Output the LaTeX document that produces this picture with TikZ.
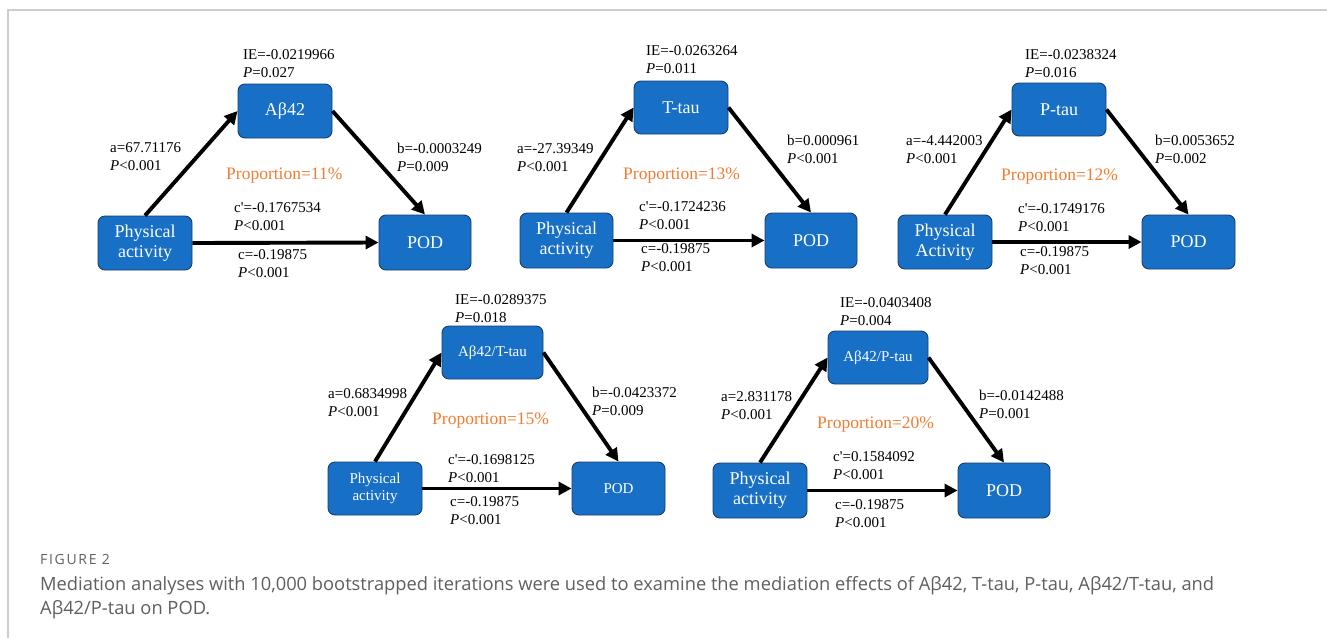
\documentclass[tikz,border=0pt]{standalone}
\usepackage{fontspec}
\setmainfont{Liberation Serif}
\newfontfamily\capfont{Open Sans}
\usetikzlibrary{arrows.meta}
\definecolor{boxblue}{RGB}{24,112,198}
\definecolor{boxedge}{RGB}{22,62,110}
\definecolor{proporange}{RGB}{240,125,50}
\definecolor{capgray}{RGB}{95,95,95}
\definecolor{framegray}{RGB}{205,205,205}
\begin{document}
\begin{tikzpicture}[x=1pt,y=-1pt,
  varbox/.style={draw=boxedge,line width=0.9pt,fill=boxblue,rounded corners=7pt,
    text=white,align=center,inner sep=0pt,font=\fontsize{18}{20}\selectfont},
  smallbox/.style={varbox,font=\fontsize{15}{17.5}\selectfont},
  lbl/.style={anchor=west,align=left,inner sep=0pt,font=\fontsize{15}{18}\selectfont},
  prop/.style={anchor=west,inner sep=0pt,text=proporange,font=\fontsize{17.5}{20}\selectfont},
  arr/.style={line width=3.9pt,-{Triangle[length=13pt,width=13pt]}},
  capt/.style={anchor=west,inner sep=0pt,text=capgray,align=left}
]
\useasboundingbox (0,0) rectangle (1327,638);
\fill[white] (0,0) rectangle (1327,638);
\coordinate (fa) at (8,638);
\coordinate (fb) at (8,10);
\coordinate (fc) at (1327,10);
\draw[framegray,line width=1.4pt] (fa) -- (fb) -- (fc);

% Panel 1
\node[varbox,minimum width=94pt,minimum height=54pt] (M1) at (285,111) {Aβ42};
\node[varbox,minimum width=94pt,minimum height=54pt] (X1) at (145,243) {Physical\\activity};
\node[varbox,minimum width=92pt,minimum height=55pt] (Y1) at (425,242.5) {POD};
\draw[arr] (X1.north) -- (M1.west);
\draw[arr] (M1.east) -- (Y1.north);
\draw[arr] (X1.east) -- (Y1.west);
\node[lbl] (ie1) at (243,64) {IE=-0.0219966\\\textit{P}=0.027};
\node[lbl] (a1) at (110,157) {a=67.71176\\\textit{P}<0.001};
\node[lbl] (b1) at (397,157) {b=-0.0003249\\\textit{P}=0.009};
\node[prop] (pr1) at (226,176) {Proportion=11\%};
\node[lbl] (cp1) at (234,216.5) {c\textquotesingle=-0.1767534\\\textit{P}<0.001};
\node[lbl] (c1) at (238,264) {c=-0.19875\\\textit{P}<0.001};

% Panel 2
\node[varbox,minimum width=94pt,minimum height=53pt] (M2) at (681,107.5) {T-tau};
\node[varbox,minimum width=93pt,minimum height=55pt] (X2) at (566.5,240.5) {Physical\\activity};
\node[varbox,minimum width=92pt,minimum height=55pt] (Y2) at (811,240.5) {POD};
\draw[arr] (X2.north) -- (M2.west);
\draw[arr] (M2.east) -- (Y2.north);
\draw[arr] (X2.east) -- (Y2.west);
\node[lbl] (ie2) at (646,59.5) {IE=-0.0263264\\\textit{P}=0.011};
\node[lbl] (a2) at (517,157.5) {a=-27.39349\\\textit{P}<0.001};
\node[lbl] (b2) at (787,149.5) {b=0.000961\\\textit{P}<0.001};
\node[prop] (pr2) at (623,176) {Proportion=13\%};
\node[lbl] (cp2) at (639,215.5) {c\textquotesingle=-0.1724236\\\textit{P}<0.001};
\node[lbl] (c2) at (641,257.5) {c=-0.19875\\\textit{P}<0.001};

% Panel 3
\node[varbox,minimum width=94pt,minimum height=53pt] (M3) at (1059,109.5) {P-tau};
\node[varbox,minimum width=94pt,minimum height=54pt] (X3) at (945,242) {Physical\\Activity};
\node[varbox,minimum width=93pt,minimum height=54pt] (Y3) at (1188.5,242) {POD};
\draw[arr] (X3.north) -- (M3.west);
\draw[arr] (M3.east) -- (Y3.north);
\draw[arr] (X3.east) -- (Y3.west);
\node[lbl] (ie3) at (1025,63.5) {IE=-0.0238324\\\textit{P}=0.016};
\node[lbl] (a3) at (906,149.5) {a=-4.442003\\\textit{P}<0.001};
\node[lbl] (b3) at (1155,149.5) {b=0.0053652\\\textit{P}=0.002};
\node[prop] (pr3) at (1001,177) {Proportion=12\%};
\node[lbl] (cp3) at (1018,218) {c\textquotesingle=-0.1749176\\\textit{P}<0.001};
\node[lbl] (c3) at (1020,260.5) {c=-0.19875\\\textit{P}<0.001};

% Panel 4
\node[smallbox,minimum width=101pt,minimum height=53pt] (M4) at (492.5,352.5) {Aβ42/T-tau};
\node[smallbox,minimum width=94pt,minimum height=53pt] (X4) at (375,488.5) {Physical\\activity};
\node[smallbox,minimum width=93pt,minimum height=53pt] (Y4) at (618.5,488.5) {POD};
\draw[arr] (X4.north) -- (M4.west);
\draw[arr] (M4.east) -- (Y4.north);
\draw[arr] (X4.east) -- (Y4.west);
\node[lbl] (ie4) at (455,308.5) {IE=-0.0289375\\\textit{P}=0.018};
\node[lbl] (a4) at (328,402.5) {a=0.6834998\\\textit{P}<0.001};
\node[lbl] (b4) at (592,401) {b=-0.0423372\\\textit{P}=0.009};
\node[prop] (pr4) at (432,421) {Proportion=15\%};
\node[lbl] (cp4) at (448,469) {c\textquotesingle=-0.1698125\\\textit{P}<0.001};
\node[lbl] (c4) at (450,511) {c=-0.19875\\\textit{P}<0.001};

% Panel 5
\node[smallbox,minimum width=100pt,minimum height=53pt] (M5) at (878,357.5) {Aβ42/P-tau};
\node[varbox,minimum width=94pt,minimum height=55pt] (X5) at (760,490.5) {Physical\\activity};
\node[varbox,minimum width=92pt,minimum height=55pt] (Y5) at (1004,490.5) {POD};
\draw[arr] (X5.north) -- (M5.west);
\draw[arr] (M5.east) -- (Y5.north);
\draw[arr] (X5.east) -- (Y5.west);
\node[lbl] (ie5) at (840,312) {IE=-0.0403408\\\textit{P}=0.004};
\node[lbl] (a5) at (721,406) {a=2.831178\\\textit{P}<0.001};
\node[lbl] (b5) at (979,404.5) {b=-0.0142488\\\textit{P}=0.001};
\node[prop] (pr5) at (817,425) {Proportion=20\%};
\node[lbl] (cp5) at (833,465.5) {c\textquotesingle=0.1584092\\\textit{P}<0.001};
\node[lbl] (c5) at (835,514) {c=-0.19875\\\textit{P}<0.001};

% Caption
\node[capt,font=\capfont\fontsize{14}{16}\selectfont\addfontfeatures{LetterSpace=12}] (figlbl) at (40,559) {FIGURE 2};
\node[capt,anchor=north west,font=\capfont\fontsize{18.3}{24.5}\selectfont] (cap) at (40,576) {Mediation analyses with 10,000 bootstrapped iterations were used to examine the mediation effects of Aβ42, T-tau, P-tau, Aβ42/T-tau, and\\Aβ42/P-tau on POD.};
\end{tikzpicture}
\end{document}
